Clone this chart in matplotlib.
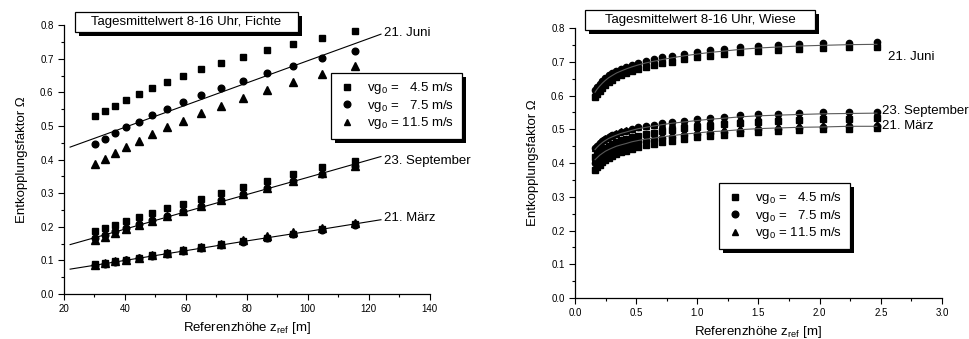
import matplotlib
matplotlib.use("Agg")
import matplotlib.pyplot as plt
import matplotlib.patheffects as pe
from matplotlib.patches import Rectangle
from matplotlib.ticker import MultipleLocator

plt.rcParams['font.family'] = ['Liberation Sans', 'DejaVu Sans']
plt.rcParams['mathtext.fontset'] = 'custom'
plt.rcParams['mathtext.rm'] = 'Liberation Sans'
plt.rcParams['mathtext.it'] = 'Liberation Sans:italic'

# --- Fichte (links) ---
z_fichte = [30.3, 33.4, 36.8, 40.5, 44.6, 49.0, 53.9, 59.2, 65.1, 71.6, 78.8, 86.6, 95.3, 104.8, 115.4]
juni_sq = [0.529, 0.545, 0.560, 0.578, 0.595, 0.612, 0.631, 0.649, 0.668, 0.687, 0.706, 0.725, 0.743, 0.762, 0.781]
juni_ci = [0.445, 0.461, 0.478, 0.496, 0.513, 0.532, 0.551, 0.571, 0.592, 0.613, 0.635, 0.656, 0.678, 0.702, 0.722]
juni_tr = [0.387, 0.402, 0.420, 0.438, 0.455, 0.475, 0.496, 0.516, 0.538, 0.560, 0.582, 0.607, 0.632, 0.655, 0.679]
sep_sq = [0.186, 0.196, 0.206, 0.217, 0.229, 0.241, 0.255, 0.269, 0.284, 0.301, 0.319, 0.337, 0.356, 0.377, 0.397]
sep_ci = [0.167, 0.176, 0.186, 0.196, 0.207, 0.219, 0.233, 0.247, 0.263, 0.279, 0.297, 0.316, 0.336, 0.358, 0.380]
sep_tr = [0.160, 0.171, 0.182, 0.193, 0.205, 0.218, 0.232, 0.246, 0.262, 0.279, 0.297, 0.316, 0.337, 0.359, 0.382]
mar_sq = [0.088, 0.093, 0.097, 0.102, 0.108, 0.115, 0.122, 0.130, 0.139, 0.148, 0.157, 0.168, 0.180, 0.193, 0.207]
mar_ci = [0.085, 0.090, 0.095, 0.100, 0.106, 0.113, 0.120, 0.128, 0.137, 0.146, 0.156, 0.167, 0.178, 0.191, 0.205]
mar_tr = [0.087, 0.092, 0.097, 0.102, 0.108, 0.115, 0.122, 0.131, 0.140, 0.150, 0.161, 0.172, 0.184, 0.197, 0.212]

fit_x_fichte = [22, 40, 60, 80, 100, 124]
fit_juni_f = [0.437, 0.496, 0.562, 0.628, 0.694, 0.773]
fit_sep_f = [0.147, 0.193, 0.245, 0.296, 0.347, 0.409]
fit_mar_f = [0.074, 0.100, 0.129, 0.158, 0.186, 0.221]

# --- Wiese (rechts) ---
z_wiese = [0.164, 0.181, 0.201, 0.224, 0.248, 0.275, 0.306, 0.339, 0.377, 0.418, 0.464, 0.518, 0.581, 0.646,
           0.714, 0.791, 0.894, 0.995, 1.104, 1.219, 1.350, 1.494, 1.658, 1.830, 2.026, 2.236, 2.468]
wj_sq = [0.595, 0.604, 0.614, 0.623, 0.631, 0.640, 0.647, 0.654, 0.661, 0.667, 0.673, 0.679, 0.686, 0.691,
         0.696, 0.701, 0.708, 0.713, 0.718, 0.722, 0.728, 0.732, 0.735, 0.738, 0.741, 0.743, 0.744]
wj_ci = [0.617, 0.626, 0.635, 0.644, 0.652, 0.660, 0.667, 0.674, 0.680, 0.686, 0.692, 0.698, 0.703, 0.708,
         0.713, 0.718, 0.724, 0.729, 0.734, 0.738, 0.743, 0.747, 0.750, 0.753, 0.755, 0.757, 0.758]
wj_tr = [0.612, 0.621, 0.630, 0.639, 0.647, 0.655, 0.662, 0.669, 0.675, 0.681, 0.687, 0.693, 0.699, 0.704,
         0.709, 0.714, 0.720, 0.725, 0.730, 0.734, 0.739, 0.743, 0.746, 0.749, 0.751, 0.753, 0.754]
ws_sq = [0.418, 0.425, 0.432, 0.439, 0.445, 0.451, 0.457, 0.462, 0.467, 0.471, 0.476, 0.481, 0.486, 0.490,
         0.494, 0.498, 0.503, 0.507, 0.511, 0.515, 0.519, 0.523, 0.525, 0.528, 0.530, 0.532, 0.534]
ws_ci = [0.444, 0.451, 0.458, 0.465, 0.471, 0.477, 0.482, 0.487, 0.492, 0.496, 0.501, 0.506, 0.510, 0.514,
         0.518, 0.522, 0.526, 0.530, 0.534, 0.537, 0.541, 0.544, 0.546, 0.548, 0.550, 0.551, 0.552]
ws_tr = [0.446, 0.453, 0.460, 0.467, 0.473, 0.479, 0.484, 0.489, 0.494, 0.497, 0.502, 0.507, 0.510, 0.513,
         0.516, 0.519, 0.522, 0.525, 0.528, 0.531, 0.534, 0.537, 0.539, 0.540, 0.542, 0.543, 0.544]
wm_sq = [0.380, 0.387, 0.395, 0.402, 0.409, 0.415, 0.421, 0.427, 0.432, 0.437, 0.443, 0.448, 0.453, 0.457,
         0.462, 0.466, 0.472, 0.476, 0.481, 0.484, 0.489, 0.493, 0.496, 0.498, 0.500, 0.502, 0.503]
wm_ci = [0.400, 0.406, 0.414, 0.420, 0.426, 0.432, 0.437, 0.442, 0.447, 0.451, 0.456, 0.461, 0.465, 0.468,
         0.473, 0.476, 0.482, 0.485, 0.489, 0.492, 0.496, 0.500, 0.502, 0.505, 0.506, 0.509, 0.509]
wm_tr = [0.416, 0.422, 0.429, 0.435, 0.441, 0.446, 0.451, 0.456, 0.460, 0.464, 0.469, 0.473, 0.477, 0.480,
         0.484, 0.487, 0.492, 0.495, 0.499, 0.501, 0.505, 0.508, 0.510, 0.512, 0.513, 0.515, 0.515]
fit_juni_w = [0.610, 0.619, 0.628, 0.637, 0.645, 0.653, 0.660, 0.667, 0.673, 0.679, 0.685, 0.691, 0.697, 0.702,
              0.707, 0.712, 0.718, 0.723, 0.728, 0.732, 0.737, 0.741, 0.744, 0.747, 0.749, 0.751, 0.752]
fit_sep_w = [0.440, 0.447, 0.454, 0.461, 0.467, 0.473, 0.478, 0.483, 0.488, 0.492, 0.497, 0.502, 0.506, 0.510,
             0.514, 0.518, 0.522, 0.526, 0.530, 0.533, 0.537, 0.540, 0.542, 0.544, 0.546, 0.547, 0.548]
fit_mar_w = [0.410, 0.416, 0.423, 0.429, 0.435, 0.440, 0.445, 0.450, 0.454, 0.458, 0.463, 0.467, 0.471, 0.474,
             0.478, 0.481, 0.486, 0.489, 0.493, 0.495, 0.499, 0.502, 0.504, 0.506, 0.507, 0.509, 0.509]

labels = [r"vg$_0$ =   4.5 m/s", r"vg$_0$ =   7.5 m/s", r"vg$_0$ = 11.5 m/s"]

FS = 9.5
shadow = [pe.SimplePatchShadow(offset=(3, -3), shadow_rgbFace='k', alpha=1), pe.Normal()]


def style_axes(ax):
    for s in ['top', 'right']:
        ax.spines[s].set_visible(False)
    for s in ['left', 'bottom']:
        ax.spines[s].set_linewidth(0.9)
    ax.tick_params(which='both', direction='out', labelsize=7, width=0.8)
    ax.tick_params(which='major', length=4)
    ax.tick_params(which='minor', length=2.5)
    ax.set_ylim(0, 0.8)
    ax.yaxis.set_major_locator(MultipleLocator(0.1))
    ax.yaxis.set_minor_locator(MultipleLocator(0.05))
    ax.yaxis.set_major_formatter(plt.FormatStrFormatter('%.1f'))
    ax.set_ylabel("Entkopplungsfaktor Ω", fontsize=FS, labelpad=9)
    ax.set_xlabel(r"Referenzhöhe z$_{\mathrm{ref}}$ [m]", fontsize=FS, labelpad=4)


def title_box(fig, x0, y0, w, h, text):
    W, H = 970, 339
    sh = Rectangle(((x0 + 4) / W, 1 - (y0 + h + 4) / H), w / W, h / H, transform=fig.transFigure,
                   facecolor='k', edgecolor='k', lw=0)
    bx = Rectangle((x0 / W, 1 - (y0 + h) / H), w / W, h / H, transform=fig.transFigure,
                   facecolor='white', edgecolor='k', lw=0.9)
    fig.add_artist(sh)
    fig.add_artist(bx)
    fig.text((x0 + w / 2) / W, 1 - (y0 + h / 2) / H, text, ha='center', va='center', fontsize=FS)


def add_legend(ax, x0, y0):
    handles = [plt.Line2D([], [], marker=m, color='k', ls='none', ms=4.8) for m in ('s', 'o', '^')]
    leg = ax.legend(handles, labels, loc='upper left', bbox_to_anchor=(x0 / 970, 1 - y0 / 339),
                    bbox_transform=fig.transFigure, fontsize=FS, frameon=True, fancybox=False,
                    edgecolor='k', framealpha=1, borderpad=0.55, labelspacing=0.12,
                    handlelength=1.3, handletextpad=0.9, borderaxespad=0)
    leg.get_frame().set_linewidth(0.9)
    leg.get_frame().set_path_effects(shadow)


fig = plt.figure(figsize=(9.7, 3.39), dpi=100)
ax1 = fig.add_axes([0.066, 0.1327, 0.377, 0.7933])
ax2 = fig.add_axes([0.5928, 0.121, 0.3783, 0.796])

# links
ms = 4.8
for ys in (juni_sq, sep_sq, mar_sq):
    ax1.plot(z_fichte, ys, 's', color='k', ms=ms, ls='none')
for ys in (juni_ci, sep_ci, mar_ci):
    ax1.plot(z_fichte, ys, 'o', color='k', ms=ms, ls='none')
for ys in (juni_tr, sep_tr, mar_tr):
    ax1.plot(z_fichte, ys, '^', color='k', ms=ms + 0.6, ls='none')
for ys in (fit_juni_f, fit_sep_f, fit_mar_f):
    ax1.plot(fit_x_fichte, ys, '-', color='k', lw=0.8)
ax1.set_xlim(20, 140)
ax1.xaxis.set_major_locator(MultipleLocator(20))
ax1.xaxis.set_minor_locator(MultipleLocator(10))
style_axes(ax1)
ax1.text(125, 0.776, "21. Juni", fontsize=FS, va='center', clip_on=False)
ax1.text(125, 0.396, "23. September", fontsize=FS, va='center', clip_on=False)
ax1.text(125, 0.226, "21. März", fontsize=FS, va='center', clip_on=False)
add_legend(ax1, 331, 73)

# rechts
ms2 = 4.5
for ys in (wj_sq, ws_sq, wm_sq):
    ax2.plot(z_wiese, ys, 's', color='k', ms=ms2, ls='none')
for ys in (wj_ci, ws_ci, wm_ci):
    ax2.plot(z_wiese, ys, 'o', color='k', ms=ms2, ls='none')
for ys in (wj_tr, ws_tr, wm_tr):
    ax2.plot(z_wiese, ys, '^', color='k', ms=ms2 + 0.5, ls='none')
for ys in (fit_juni_w, fit_sep_w, fit_mar_w):
    ax2.plot(z_wiese, ys, '-', color='0.35', lw=0.8)
ax2.set_xlim(0, 3.0)
ax2.xaxis.set_major_locator(MultipleLocator(0.5))
ax2.xaxis.set_minor_locator(MultipleLocator(0.25))
style_axes(ax2)
ax2.text(2.56, 0.714, "21. Juni", fontsize=FS, va='center', clip_on=False)
ax2.text(2.51, 0.554, "23. September", fontsize=FS, va='center', clip_on=False)
ax2.text(2.51, 0.510, "21. März", fontsize=FS, va='center', clip_on=False)
add_legend(ax2, 719, 183)

title_box(fig, 75, 12, 223, 20, "Tagesmittelwert 8-16 Uhr, Fichte")
title_box(fig, 585, 10, 230, 20, "Tagesmittelwert 8-16 Uhr, Wiese")

fig.savefig("out.png", dpi=100)
